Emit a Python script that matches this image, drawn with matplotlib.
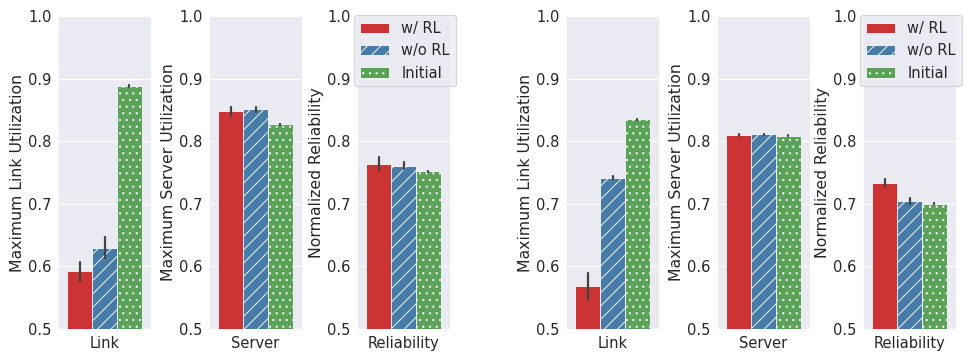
import matplotlib
matplotlib.use("Agg")
import matplotlib.pyplot as plt
import seaborn as sns
import numpy as np

sns.set_style("darkgrid")
plt.rcParams["font.family"] = ["DejaVu Sans"]
plt.rcParams["hatch.linewidth"] = 0.8

# data
categories = ["Link", "Server", "Reliability"]
ylabels = ["Maximum Link Utilization", "Maximum Server Utilization", "Normalized Reliability"]
methods = ["w/ RL", "w/o RL", "Initial"]

left_rl = [0.592, 0.848, 0.764]
left_norl = [0.630, 0.851, 0.761]
left_init = [0.888, 0.827, 0.752]
left_rl_err = [0.015, 0.007, 0.010]
left_norl_err = [0.017, 0.004, 0.005]
left_init_err = [0.001, 0.001, 0.001]

right_rl = [0.568, 0.810, 0.734]
right_norl = [0.742, 0.811, 0.704]
right_init = [0.835, 0.809, 0.700]
right_rl_err = [0.022, 0.002, 0.006]
right_norl_err = [0.003, 0.001, 0.005]
right_init_err = [0.001, 0.001, 0.001]

colors = [sns.desaturate(c, 0.75) for c in sns.color_palette("Set1", 3)]
hatches = ["", "//", ".."]

# rendered at 80 dpi so the hatch spacing matches the reference
DPI = 80
W, H = 964.0, 356.0
fig = plt.figure(figsize=(W / DPI, H / DPI), dpi=DPI)
lefts = [58, 209, 357, 566, 717, 863]
bottom = 27 / H
height = 313 / H
width = 93 / W


def draw_panel(ax, cat, ylabel, vals, errs, legend=False):
    bw = 0.8 / 3
    for i, (v, e) in enumerate(zip(vals, errs)):
        x = -0.4 + bw * (i + 0.5)
        ax.bar(x, v - 0.5, bw, bottom=0.5, color=colors[i], hatch=hatches[i],
               edgecolor="white", linewidth=0.7, label=methods[i], zorder=2)
        ax.plot([x, x], [v - e, v + e], color="#424242", lw=2.0, zorder=3)
    ax.set_xlim(-0.5, 0.5)
    ax.set_ylim(0.5, 1.0)
    ax.set_yticks(np.arange(0.5, 1.01, 0.1))
    ax.set_xticks([0])
    ax.set_xticklabels([cat])
    ax.xaxis.grid(False)
    ax.grid(axis="y", linewidth=1.2)
    ax.tick_params(axis="both", labelsize=13.2, pad=2.5)
    ax.set_ylabel(ylabel, fontsize=14.2, labelpad=2.5)
    if legend:
        ax.legend(loc="upper right", bbox_to_anchor=(1.06, 1.003), borderaxespad=0,
                  fontsize=13.2, frameon=True, handlelength=2.0)


groups = [
    (left_rl, left_norl, left_init, left_rl_err, left_norl_err, left_init_err),
    (right_rl, right_norl, right_init, right_rl_err, right_norl_err, right_init_err),
]
k = 0
for rl, norl, init, rle, norle, inite in groups:
    for j in range(3):
        ax = fig.add_axes([lefts[k] / W, bottom, width, height])
        draw_panel(ax, categories[j], ylabels[j], [rl[j], norl[j], init[j]],
                   [rle[j], norle[j], inite[j]], legend=(j == 2))
        k += 1

fig.savefig("out.png", dpi=DPI)
